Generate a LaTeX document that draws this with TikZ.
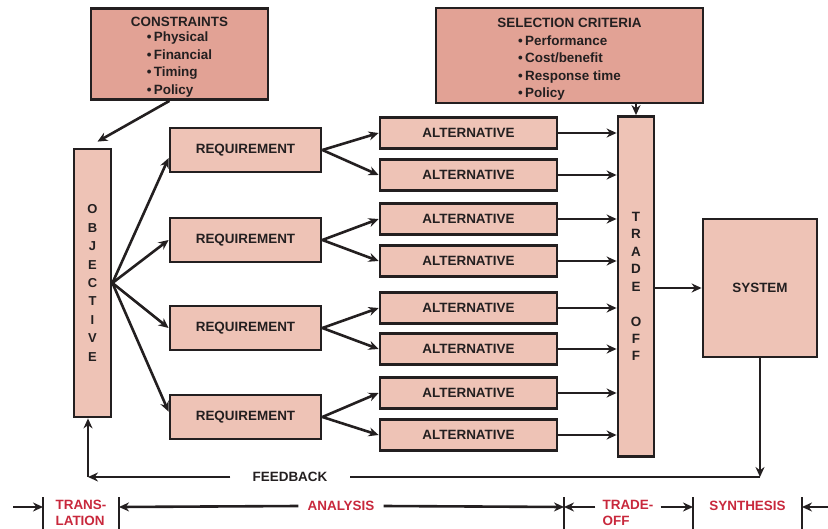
\documentclass[tikz,border=0pt]{standalone}
\usepackage{fontspec}
\setmainfont{Liberation Sans}
\usepackage{xcolor}
\usepackage{tikz}
\usetikzlibrary{arrows.meta, calc}

\definecolor{ink}{RGB}{35,31,32}
\definecolor{boxdark}{RGB}{226,162,149}
\definecolor{boxlight}{RGB}{238,195,182}
\definecolor{phasered}{RGB}{200,40,60}

\begin{document}
\begin{tikzpicture}[x=1bp, y=-1bp]
    % Define styles
    \tikzstyle{topbox} = [rectangle, draw=ink, fill=boxdark, line width=2.8bp, inner sep=0pt, align=center, text=ink, font=\bfseries\fontsize{13.5}{17.5}\selectfont]
    \tikzstyle{block} = [rectangle, draw=ink, fill=boxlight, line width=2.8bp, inner sep=0pt, align=center, text=ink, font=\bfseries\fontsize{13.5}{15}\selectfont]
    \tikzstyle{arrow} = [-{Stealth[length=10bp, width=9bp]}, line width=2.6bp, draw=ink]
    \tikzstyle{phase} = [text=phasered, align=left, inner sep=0pt, font=\bfseries\fontsize{13.5}{16}\selectfont]
    \tikzstyle{tick} = [line width=2.4bp, draw=ink]

    \useasboundingbox (0,0) rectangle (828,529);

    % Inputs
    \node[topbox, minimum width=177bp, minimum height=90bp] (cons) at (179.5,54) {\rule{0pt}{18bp}CONSTRAINTS\\[-2bp]\begin{tabular}[t]{@{}l@{}}\textbullet\,Physical\\\textbullet\,Financial\\\textbullet\,Timing\\\textbullet\,Policy\end{tabular}};
    \node[topbox, minimum width=267bp, minimum height=91bp] (crit) at (569.5,55.5) {\rule{0pt}{19bp}SELECTION CRITERIA\\[1bp]\begin{tabular}[t]{@{}l@{}}\textbullet\,Performance\\\textbullet\,Cost/benefit\\\textbullet\,Response time\\\textbullet\,Policy\end{tabular}};

    % Objective, trade-off and system
    \node[block, minimum width=37bp, minimum height=268bp, font=\bfseries\fontsize{13}{18.5}\selectfont] (obj) at (92.5,283) {O\\B\\J\\E\\C\\T\\I\\V\\E};
    \node[block, minimum width=36bp, minimum height=340bp, font=\bfseries\fontsize{13.5}{17.5}\selectfont] (trade) at (636,286.5) {T\\R\\A\\D\\E\\[17.5bp]O\\F\\F};
    \node[block, minimum width=114bp, minimum height=138bp] (sys) at (760,288) {SYSTEM};

    % Requirements
    \node[block, minimum width=151bp, minimum height=44bp] (req1) at (245.5,150) {REQUIREMENT};
    \node[block, minimum width=151bp, minimum height=44bp] (req2) at (245.5,240) {REQUIREMENT};
    \node[block, minimum width=151bp, minimum height=44bp] (req3) at (245.5,328) {REQUIREMENT};
    \node[block, minimum width=151bp, minimum height=44bp] (req4) at (245.5,417) {REQUIREMENT};

    % Alternatives
    \node[block, minimum width=177bp, minimum height=31bp] (alt1) at (468.5,133) {ALTERNATIVE};
    \node[block, minimum width=177bp, minimum height=31bp] (alt2) at (468.5,175) {ALTERNATIVE};
    \node[block, minimum width=177bp, minimum height=31bp] (alt3) at (468.5,219) {ALTERNATIVE};
    \node[block, minimum width=177bp, minimum height=31bp] (alt4) at (468.5,261) {ALTERNATIVE};
    \node[block, minimum width=177bp, minimum height=31bp] (alt5) at (468.5,308) {ALTERNATIVE};
    \node[block, minimum width=177bp, minimum height=31bp] (alt6) at (468.5,349) {ALTERNATIVE};
    \node[block, minimum width=177bp, minimum height=31bp] (alt7) at (468.5,393) {ALTERNATIVE};
    \node[block, minimum width=177bp, minimum height=31bp] (alt8) at (468.5,435) {ALTERNATIVE};

    % Flows into objective and trade-off
    \draw[arrow] ([xshift=-10bp]cons.south) -- ([xshift=5bp, yshift=6bp]obj.north);
    \draw[arrow] (trade.north |- crit.south) -- (trade.north);

    % Objective to requirements
    \draw[arrow] (obj.east) -- (req1.186);
    \draw[arrow] (obj.east) -- (req2.west);
    \draw[arrow] (obj.east) -- (req3.west);
    \draw[arrow] (obj.east) -- (req4.176);

    % Requirements to alternatives
    \draw[arrow] (req1.east) -- (alt1.west);
    \draw[arrow] (req1.east) -- (alt2.west);
    \draw[arrow] (req2.east) -- (alt3.west);
    \draw[arrow] (req2.east) -- (alt4.west);
    \draw[arrow] (req3.east) -- (alt5.west);
    \draw[arrow] (req3.east) -- (alt6.west);
    \draw[arrow] (req4.east) -- (alt7.west);
    \draw[arrow] (req4.east) -- (alt8.west);

    % Alternatives to trade-off, trade-off to system
    \draw[arrow] (alt1.east) -- (trade.west |- alt1.east);
    \draw[arrow] (alt2.east) -- (trade.west |- alt2.east);
    \draw[arrow] (alt3.east) -- (trade.west |- alt3.east);
    \draw[arrow] (alt4.east) -- (trade.west |- alt4.east);
    \draw[arrow] (alt5.east) -- (trade.west |- alt5.east);
    \draw[arrow] (alt6.east) -- (trade.west |- alt6.east);
    \draw[arrow] (alt7.east) -- (trade.west |- alt7.east);
    \draw[arrow] (alt8.east) -- (trade.west |- alt8.east);
    \draw[arrow] (trade.east |- sys.west) -- (sys.west);

    % Feedback loop
    \node[text=ink, fill=white, inner xsep=22bp, font=\bfseries\fontsize{13.5}{15}\selectfont] (fb) at (290,477) {FEEDBACK};
    \coordinate (fbr) at (sys.south |- fb);
    \coordinate (fbl) at (88,477);
    \draw[arrow] (sys.south) -- (fbr);
    \draw[line width=2.6bp, draw=ink] (fbr) -- (fb.east);
    \draw[arrow] (fb.west) -- (fbl);
    \draw[arrow] (fbl) -- (fbl |- obj.south);

    % Phase scale
    \coordinate (t0) at (43,507);
    \coordinate (t1) at (119,507);
    \coordinate (t2) at (564,507);
    \coordinate (t3) at (693,507);
    \coordinate (t4) at (802,507);
    \coordinate (lend) at (13,507);
    \coordinate (rend) at (828,507);
    \draw[tick] (43,497) -- (43,529);
    \draw[tick] (119,497) -- (119,529);
    \draw[tick] (564,497) -- (564,529);
    \draw[tick] (693,497) -- (693,529);
    \draw[tick] (802,497) -- (802,529);

    \node[phase] (trans) at (81,513) {TRANS-\\LATION};
    \node[phase, inner xsep=9bp] (analysis) at (341,506) {ANALYSIS};
    \node[phase, inner xsep=7bp] (tradeoff) at (628,513) {TRADE-\\OFF};
    \node[phase] (synth) at (747.5,506) {SYNTHESIS};

    \draw[arrow] (lend) -- (t0);
    \draw[arrow] (analysis.west) -- (t1);
    \draw[arrow] (analysis.east) -- (t2);
    \draw[arrow] (tradeoff.west |- t2) -- (t2);
    \draw[arrow] (tradeoff.east |- t3) -- (t3);
    \draw[arrow] (rend) -- (t4);

\end{tikzpicture}
\end{document}
